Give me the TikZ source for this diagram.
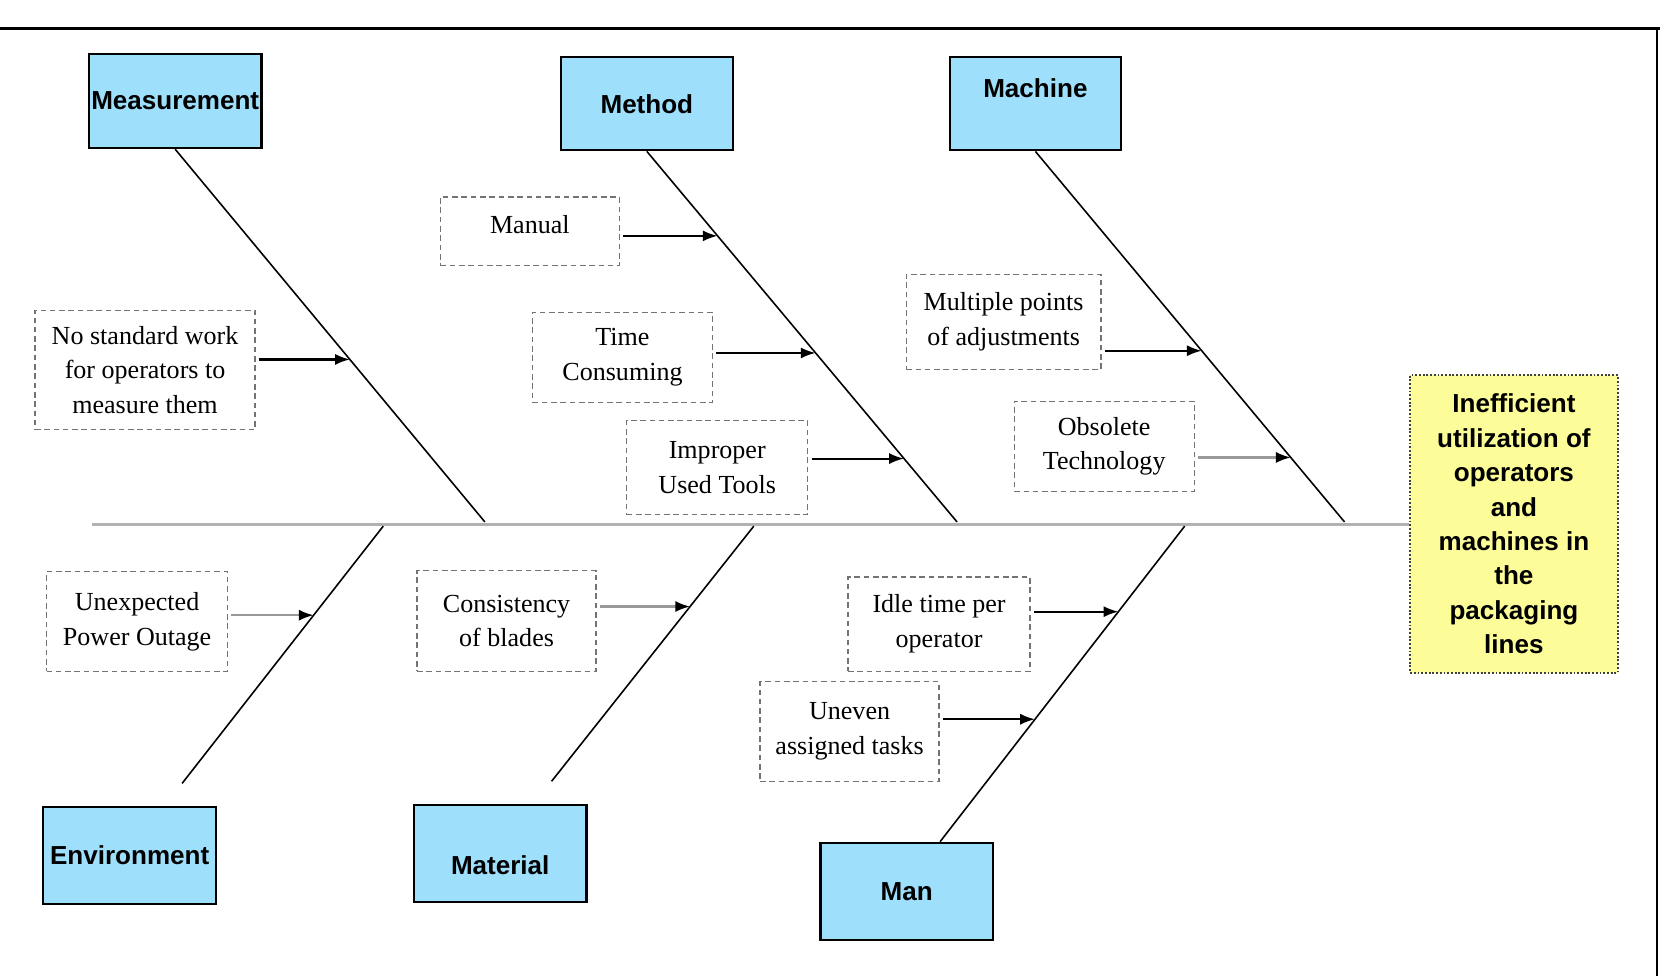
\documentclass[tikz,border=0pt]{standalone}
\usepackage{fontspec}
\setmainfont{Liberation Serif}
\setsansfont{Liberation Sans}
\usetikzlibrary{arrows.meta}
\definecolor{catblue}{RGB}{158,223,252}
\definecolor{headyellow}{RGB}{252,252,152}
\tikzset{
  boxwh/.style 2 args={minimum width=#1*0.2mm, minimum height=#2*0.2mm},
  catbox/.style={draw, line width=0.4mm, fill=catblue, inner sep=0pt, font=\sffamily\bfseries\fontsize{14}{17}\selectfont},
  causebox/.style={draw=black!55, densely dashed, line width=0.25mm, inner sep=0pt, align=center, font=\fontsize{14}{18.7}\selectfont},
  headbox/.style={draw=black!75, densely dotted, line width=0.35mm, fill=headyellow, inner sep=0pt, align=center, font=\sffamily\bfseries\fontsize{14}{18.5}\selectfont},
  bone/.style={line width=0.3mm},
  spine/.style={draw=black!30, line width=0.55mm},
  cause arrow/.style={line width=0.4mm, -{Latex[length=2.8mm,width=2.1mm]}, shorten <=0.6mm},
  faint arrow/.style={cause arrow, draw=black!40, -{Latex[length=2.8mm,width=2.1mm,color=black]}}
}
\begin{document}
\begin{tikzpicture}[x=0.2mm, y=-0.2mm]
\useasboundingbox (0,0) rectangle (1568,922);
%frame
\draw[line width=0.7mm] (0,27) -- (1568,27);
\draw[line width=0.3mm] (1565,27) -- (1565,922);

%head and spine
\node[headbox, boxwh={196}{281}] (head) at (1430,495) {Inefficient\\utilization of\\operators\\and\\machines in\\the\\packaging\\lines};
\coordinate (tail) at (87,495);
\draw[spine] (tail) -- (head.west);

%categories
\node[catbox, boxwh={163}{89}] (meas) at (165.5,95.5) {Measurement};
\node[catbox, boxwh={162}{88}] (meth) at (611,98) {Method};
\node[catbox, boxwh={162}{88}, text depth=17pt] (mach) at (978,98) {Machine};
\node[catbox, boxwh={163}{92}] (env) at (122.5,808) {Environment};
\node[catbox, boxwh={163}{92}, text height=23pt] (mat) at (472.5,806) {Material};
\node[catbox, boxwh={163}{92}] (man) at (856.5,842) {Man};

%bones
\coordinate (measH) at (458,493);
\coordinate (methH) at (904,493);
\coordinate (machH) at (1270,493);
\coordinate (envL) at (172,740);
\coordinate (envH) at (362,497);
\coordinate (matL) at (521,738);
\coordinate (matH) at (712,497);
\coordinate (manH) at (1119,497);
\draw[bone] (meas.south) -- (measH) coordinate[pos=0.564] (measA);
\draw[bone] (meth.south) -- (methH) coordinate[pos=0.228] (methA) coordinate[pos=0.544] (methB) coordinate[pos=0.829] (methC);
\draw[bone] (mach.south) -- (machH) coordinate[pos=0.538] (machA) coordinate[pos=0.826] (machB);
\draw[bone] (envL) -- (envH) coordinate[pos=0.654] (envA);
\draw[bone] (matL) -- (matH) coordinate[pos=0.685] (matA);
\draw[bone] ([xshift=6.3mm]man.north) -- (manH) coordinate[pos=0.388] (manA) coordinate[pos=0.729] (manB);

%causes
\node[causebox, boxwh={208}{113}] (nostd) at (137,349.5) {No standard work\\for operators to\\measure them};
\node[causebox, boxwh={169}{65}, text depth=7.4pt] (manual) at (500.5,218.5) {Manual};
\node[causebox, boxwh={170}{85}] (timec) at (588,337.5) {Time\\Consuming};
\node[causebox, boxwh={171}{89}] (tools) at (677.5,441.5) {Improper\\Used Tools};
\node[causebox, boxwh={184}{90}] (adjust) at (948,304) {Multiple points\\of adjustments};
\node[causebox, boxwh={170}{85}] (obsol) at (1043,421.5) {Obsolete\\Technology};
\node[causebox, boxwh={171}{94}] (power) at (129.5,587) {Unexpected\\Power Outage};
\node[causebox, boxwh={169}{95}] (blades) at (478.5,586.5) {Consistency\\of blades};
\node[causebox, boxwh={172}{89}] (idle) at (887,589.5) {Idle time per\\operator};
\node[causebox, boxwh={169}{94}] (tasks) at (802.5,691) {Uneven\\assigned tasks};

\draw[cause arrow] (nostd.east |- measA) -- (measA);
\draw[cause arrow] (manual.east |- methA) -- (methA);
\draw[cause arrow] (timec.east |- methB) -- (methB);
\draw[cause arrow] (tools.east |- methC) -- (methC);
\draw[cause arrow] (adjust.east |- machA) -- (machA);
\draw[faint arrow] (obsol.east |- machB) -- (machB);
\draw[faint arrow] (power.east |- envA) -- (envA);
\draw[faint arrow] (blades.east |- matA) -- (matA);
\draw[cause arrow] (idle.east |- manB) -- (manB);
\draw[cause arrow] (tasks.east |- manA) -- (manA);
\end{tikzpicture}
\end{document}
